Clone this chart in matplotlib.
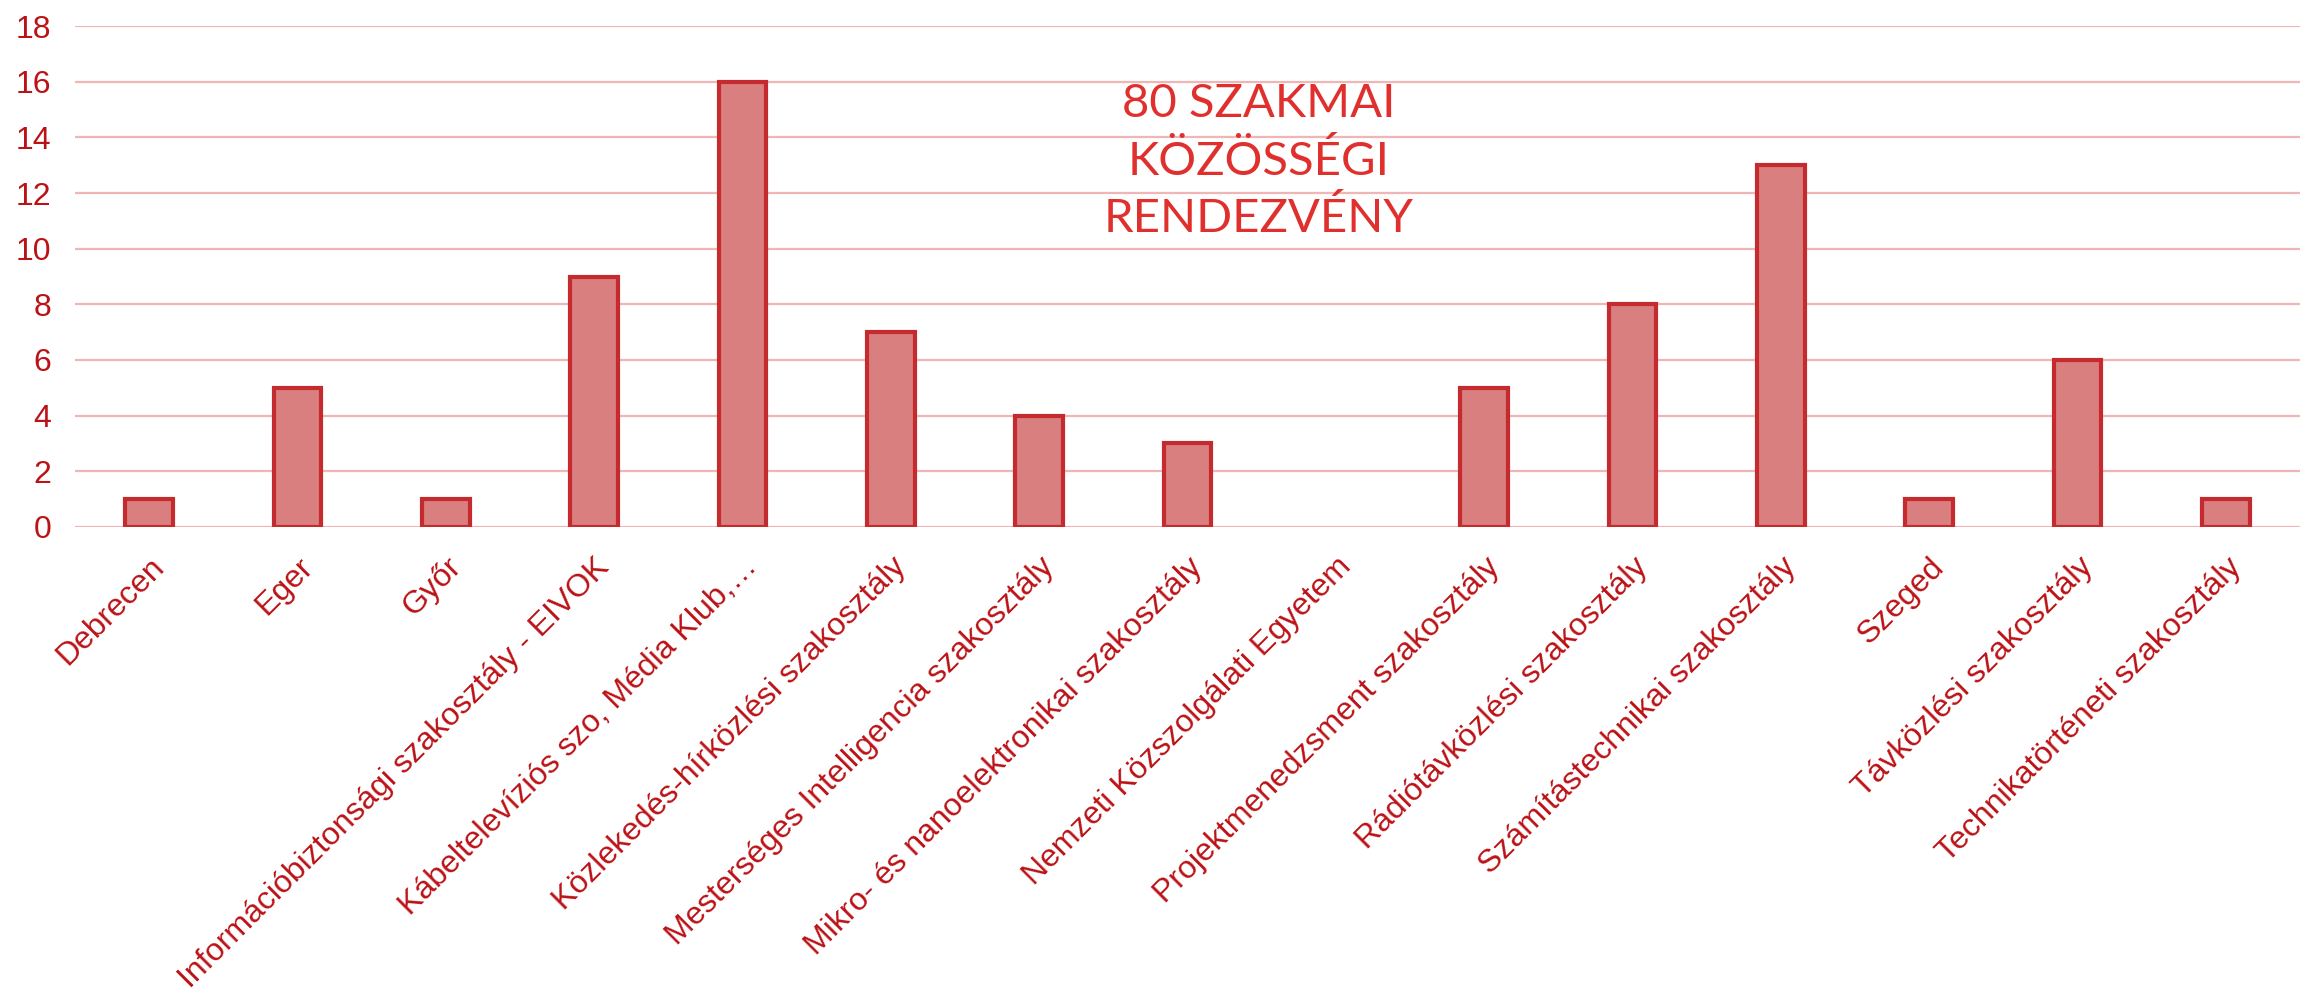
import matplotlib
matplotlib.use("Agg")
import matplotlib.pyplot as plt

# events per section
categories = [
    "Debrecen",
    "Eger",
    "Győr",
    "Információbiztonsági szakosztály - EIVOK",
    "Kábeltelevíziós szo, Média Klub,…",
    "Közlekedés-hírközlési szakosztály",
    "Mesterséges Intelligencia szakosztály",
    "Mikro- és nanoelektronikai szakosztály",
    "Nemzeti Közszolgálati Egyetem",
    "Projektmenedzsment szakosztály",
    "Rádiótávközlési szakosztály",
    "Számítástechnikai szakosztály",
    "Szeged",
    "Távközlési szakosztály",
    "Technikatörténeti szakosztály",
]
events = [1, 5, 1, 9, 16, 7, 4, 3, 0, 5, 8, 13, 1, 6, 1]
y_ticks = list(range(0, 19, 2))
note_lines = ["80 SZAKMAI", "KÖZÖSSÉGI", "RENDEZVÉNY"]

label_red = "#bb1216"
grid_pink = "#f0b6b6"

plt.rcParams["font.family"] = ["Liberation Sans", "DejaVu Sans"]

fig = plt.figure(figsize=(23, 9.9), dpi=100)
ax = fig.add_axes([0.0326, 0.4677, 0.9674, 0.506])

x = range(len(categories))
ax.bar(x, events, width=0.32, color="#d97f7f", edgecolor="#c42a2e",
       linewidth=[3 if v else 0 for v in events], zorder=3)

ax.set_xlim(-0.5, len(categories) - 0.5)
ax.set_ylim(0, 18)
ax.set_yticks(y_ticks)
ax.yaxis.grid(True, color=grid_pink, linewidth=1.6, zorder=0)
ax.set_axisbelow(True)
for s in ax.spines.values():
    s.set_visible(False)

ax.tick_params(axis="y", length=0, pad=17, labelsize=23, labelcolor=label_red)
ax.tick_params(axis="x", length=0, pad=18)
ax.set_xticks(list(x))
ax.set_xticklabels(categories, rotation=45, ha="right", rotation_mode="anchor",
                   fontsize=23, color=label_red)

# note in the middle of the chart, one text per line
for i, line in enumerate(note_lines):
    ax.text(7.48, 14.73 - 2.07 * i, line, ha="center", va="baseline",
            fontsize=34, color="#e0302e", family=["Lato", "DejaVu Sans"])

fig.savefig("out.png", dpi=100, facecolor="white")
